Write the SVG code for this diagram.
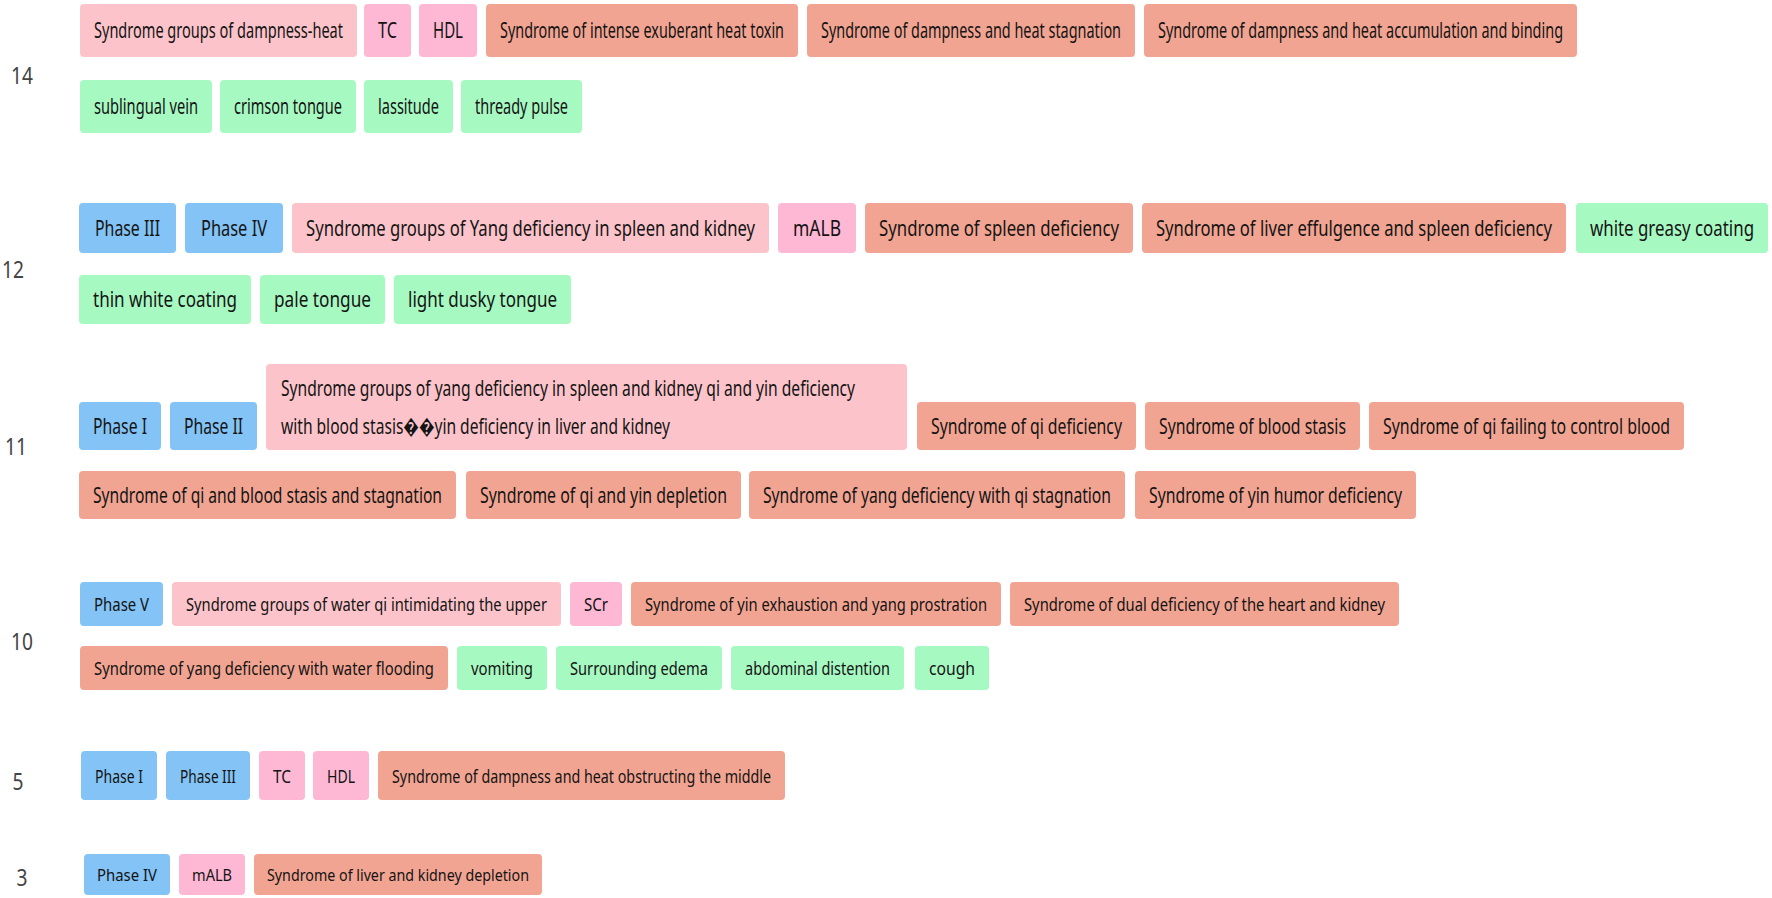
<svg xmlns="http://www.w3.org/2000/svg" width="1772" height="898" viewBox="0 0 1772 898">
<style>
.bl{fill:#83c3f5}.lp{fill:#fcc4ca}.pk{fill:#ffb8d3}.sa{fill:#f2a492}.gr{fill:#a7f9c2}
rect{rx:4px;ry:4px}
text{font-family:"Noto Sans","Open Sans","Liberation Sans",sans-serif;fill:#141414;lengthAdjust:spacingAndGlyphs}
.t20{font-size:21px}.t18{font-size:19px}.t16{font-size:17px}
.lab{font-size:24px;fill:#444;text-anchor:middle}
.c{text-anchor:middle}
</style>
<rect width="1772" height="898" fill="#ffffff"/>
<g id="labels">
<text class="lab" transform="translate(22,84) scale(0.8,1)">14</text>
<text class="lab" transform="translate(13,278) scale(0.8,1)">12</text>
<text class="lab" transform="translate(16,455) scale(0.8,1)">11</text>
<text class="lab" transform="translate(22,650) scale(0.8,1)">10</text>
<text class="lab" transform="translate(18,790) scale(0.8,1)">5</text>
<text class="lab" transform="translate(22,886) scale(0.8,1)">3</text>
</g>
<g id="connectors"/>
<!-- Row 14 -->
<g id="r14-1"><rect class="lp" x="80" y="4" width="277" height="53"/><text class="t20 c" transform="translate(218.5,38) scale(0.68,1)" textLength="366.2" lengthAdjust="spacingAndGlyphs">Syndrome groups of dampness-heat</text></g>
<g id="r14-2"><rect class="pk" x="364" y="4" width="47" height="53"/><text class="t20 c" transform="translate(387.5,38) scale(0.68,1)" textLength="27.9" lengthAdjust="spacingAndGlyphs">TC</text></g>
<g id="r14-3"><rect class="pk" x="419" y="4" width="58" height="53"/><text class="t20 c" transform="translate(448,38) scale(0.68,1)" textLength="44.1" lengthAdjust="spacingAndGlyphs">HDL</text></g>
<g id="r14-4"><rect class="sa" x="486" y="4" width="312" height="53"/><text class="t20 c" transform="translate(642,38) scale(0.68,1)" textLength="417.6" lengthAdjust="spacingAndGlyphs">Syndrome of intense exuberant heat toxin</text></g>
<g id="r14-5"><rect class="sa" x="807" y="4" width="328" height="53"/><text class="t20 c" transform="translate(971,38) scale(0.68,1)" textLength="441.2" lengthAdjust="spacingAndGlyphs">Syndrome of dampness and heat stagnation</text></g>
<g id="r14-6"><rect class="sa" x="1144" y="4" width="433" height="53"/><text class="t20 c" transform="translate(1360.5,38) scale(0.68,1)" textLength="595.6" lengthAdjust="spacingAndGlyphs">Syndrome of dampness and heat accumulation and binding</text></g>
<g id="r14-7"><rect class="gr" x="80" y="80" width="132" height="53"/><text class="t20 c" transform="translate(146,114) scale(0.68,1)" textLength="152.9" lengthAdjust="spacingAndGlyphs">sublingual vein</text></g>
<g id="r14-8"><rect class="gr" x="220" y="80" width="136" height="53"/><text class="t20 c" transform="translate(288,114) scale(0.68,1)" textLength="158.8" lengthAdjust="spacingAndGlyphs">crimson tongue</text></g>
<g id="r14-9"><rect class="gr" x="364" y="80" width="89" height="53"/><text class="t20 c" transform="translate(408.5,114) scale(0.68,1)" textLength="89.7" lengthAdjust="spacingAndGlyphs">lassitude</text></g>
<g id="r14-10"><rect class="gr" x="461" y="80" width="121" height="53"/><text class="t20 c" transform="translate(521.5,114) scale(0.68,1)" textLength="136.8" lengthAdjust="spacingAndGlyphs">thready pulse</text></g>
<!-- Row 12 -->
<g id="r12-1"><rect class="bl" x="79" y="203" width="97" height="50"/><text class="t20 c" transform="translate(127.5,235.5) scale(0.68,1)" textLength="95.6" lengthAdjust="spacingAndGlyphs">Phase III</text></g>
<g id="r12-2"><rect class="bl" x="185" y="203" width="98" height="50"/><text class="t20 c" transform="translate(234,235.5) scale(0.68,1)" textLength="97.1" lengthAdjust="spacingAndGlyphs">Phase IV</text></g>
<g id="r12-3"><rect class="lp" x="292" y="203" width="477" height="50"/><text class="t20 c" transform="translate(530.5,235.5) scale(0.68,1)" textLength="660.3" lengthAdjust="spacingAndGlyphs">Syndrome groups of Yang deficiency in spleen and kidney</text></g>
<g id="r12-4"><rect class="pk" x="778" y="203" width="78" height="50"/><text class="t20 c" transform="translate(817,235.5) scale(0.68,1)" textLength="70.6" lengthAdjust="spacingAndGlyphs">mALB</text></g>
<g id="r12-5"><rect class="sa" x="865" y="203" width="268" height="50"/><text class="t20 c" transform="translate(999,235.5) scale(0.68,1)" textLength="352.9" lengthAdjust="spacingAndGlyphs">Syndrome of spleen deficiency</text></g>
<g id="r12-6"><rect class="sa" x="1142" y="203" width="424" height="50"/><text class="t20 c" transform="translate(1354,235.5) scale(0.68,1)" textLength="582.4" lengthAdjust="spacingAndGlyphs">Syndrome of liver effulgence and spleen deficiency</text></g>
<g id="r12-7"><rect class="gr" x="1576" y="203" width="192" height="50"/><text class="t20 c" transform="translate(1672,235.5) scale(0.68,1)" textLength="241.2" lengthAdjust="spacingAndGlyphs">white greasy coating</text></g>
<g id="r12-8"><rect class="gr" x="79" y="275" width="172" height="49"/><text class="t20 c" transform="translate(165,307) scale(0.68,1)" textLength="211.8" lengthAdjust="spacingAndGlyphs">thin white coating</text></g>
<g id="r12-9"><rect class="gr" x="260" y="275" width="125" height="49"/><text class="t20 c" transform="translate(322.5,307) scale(0.68,1)" textLength="142.6" lengthAdjust="spacingAndGlyphs">pale tongue</text></g>
<g id="r12-10"><rect class="gr" x="394" y="275" width="177" height="49"/><text class="t20 c" transform="translate(482.5,307) scale(0.68,1)" textLength="219.1" lengthAdjust="spacingAndGlyphs">light dusky tongue</text></g>
<!-- Row 11 -->
<g id="r11-1"><rect class="bl" x="79" y="402" width="82" height="48"/><text class="t20 c" transform="translate(120,433.5) scale(0.68,1)" textLength="79.4" lengthAdjust="spacingAndGlyphs">Phase I</text></g>
<g id="r11-2"><rect class="bl" x="170" y="402" width="87" height="48"/><text class="t20 c" transform="translate(213.5,433.5) scale(0.68,1)" textLength="86.8" lengthAdjust="spacingAndGlyphs">Phase II</text></g>
<g id="r11-3"><rect class="lp" x="266" y="364" width="641" height="86"/><text class="t20" transform="translate(281,395.5) scale(0.68,1)" textLength="844.1" lengthAdjust="spacingAndGlyphs">Syndrome groups of yang deficiency in spleen and kidney qi and yin deficiency</text><text class="t20" transform="translate(281,433.5) scale(0.68,1)" textLength="572.1" lengthAdjust="spacingAndGlyphs">with blood stasis��yin deficiency in liver and kidney</text></g>
<g id="r11-4"><rect class="sa" x="917" y="402" width="219" height="48"/><text class="t20 c" transform="translate(1026.5,433.5) scale(0.68,1)" textLength="280.9" lengthAdjust="spacingAndGlyphs">Syndrome of qi deficiency</text></g>
<g id="r11-5"><rect class="sa" x="1145" y="402" width="215" height="48"/><text class="t20 c" transform="translate(1252.5,433.5) scale(0.68,1)" textLength="275" lengthAdjust="spacingAndGlyphs">Syndrome of blood stasis</text></g>
<g id="r11-6"><rect class="sa" x="1369" y="402" width="315" height="48"/><text class="t20 c" transform="translate(1526.5,433.5) scale(0.68,1)" textLength="422.1" lengthAdjust="spacingAndGlyphs">Syndrome of qi failing to control blood</text></g>
<g id="r11-7"><rect class="sa" x="79" y="471" width="377" height="48"/><text class="t20 c" transform="translate(267.5,502.5) scale(0.68,1)" textLength="513.2" lengthAdjust="spacingAndGlyphs">Syndrome of qi and blood stasis and stagnation</text></g>
<g id="r11-8"><rect class="sa" x="466" y="471" width="275" height="48"/><text class="t20 c" transform="translate(603.5,502.5) scale(0.68,1)" textLength="363.2" lengthAdjust="spacingAndGlyphs">Syndrome of qi and yin depletion</text></g>
<g id="r11-9"><rect class="sa" x="749" y="471" width="376" height="48"/><text class="t20 c" transform="translate(937,502.5) scale(0.68,1)" textLength="511.8" lengthAdjust="spacingAndGlyphs">Syndrome of yang deficiency with qi stagnation</text></g>
<g id="r11-10"><rect class="sa" x="1135" y="471" width="281" height="48"/><text class="t20 c" transform="translate(1275.5,502.5) scale(0.68,1)" textLength="372.1" lengthAdjust="spacingAndGlyphs">Syndrome of yin humor deficiency</text></g>
<!-- Row 10 -->
<g id="r10-1"><rect class="bl" x="80" y="582" width="83" height="44"/><text class="t18 c" transform="translate(121.5,610.5) scale(0.7,1)" textLength="78.6" lengthAdjust="spacingAndGlyphs">Phase V</text></g>
<g id="r10-2"><rect class="lp" x="172" y="582" width="389" height="44"/><text class="t18 c" transform="translate(366.5,610.5) scale(0.7,1)" textLength="515.7" lengthAdjust="spacingAndGlyphs">Syndrome groups of water qi intimidating the upper</text></g>
<g id="r10-3"><rect class="pk" x="570" y="582" width="52" height="44"/><text class="t18 c" transform="translate(596,610.5) scale(0.7,1)" textLength="34.3" lengthAdjust="spacingAndGlyphs">SCr</text></g>
<g id="r10-4"><rect class="sa" x="631" y="582" width="370" height="44"/><text class="t18 c" transform="translate(816,610.5) scale(0.7,1)" textLength="488.6" lengthAdjust="spacingAndGlyphs">Syndrome of yin exhaustion and yang prostration</text></g>
<g id="r10-5"><rect class="sa" x="1010" y="582" width="389" height="44"/><text class="t18 c" transform="translate(1204.5,610.5) scale(0.7,1)" textLength="515.7" lengthAdjust="spacingAndGlyphs">Syndrome of dual deficiency of the heart and kidney</text></g>
<g id="r10-6"><rect class="sa" x="80" y="646" width="368" height="44"/><text class="t18 c" transform="translate(264,674.5) scale(0.7,1)" textLength="485.7" lengthAdjust="spacingAndGlyphs">Syndrome of yang deficiency with water flooding</text></g>
<g id="r10-7"><rect class="gr" x="457" y="646" width="90" height="44"/><text class="t18 c" transform="translate(502,674.5) scale(0.7,1)" textLength="88.6" lengthAdjust="spacingAndGlyphs">vomiting</text></g>
<g id="r10-8"><rect class="gr" x="556" y="646" width="166" height="44"/><text class="t18 c" transform="translate(639,674.5) scale(0.7,1)" textLength="197.1" lengthAdjust="spacingAndGlyphs">Surrounding edema</text></g>
<g id="r10-9"><rect class="gr" x="731" y="646" width="173" height="44"/><text class="t18 c" transform="translate(817.5,674.5) scale(0.7,1)" textLength="207.1" lengthAdjust="spacingAndGlyphs">abdominal distention</text></g>
<g id="r10-10"><rect class="gr" x="915" y="646" width="74" height="44"/><text class="t18 c" transform="translate(952,674.5) scale(0.7,1)" textLength="65.7" lengthAdjust="spacingAndGlyphs">cough</text></g>
<!-- Row 5 -->
<g id="r5-1"><rect class="bl" x="81" y="751" width="76" height="49"/><text class="t18 c" transform="translate(119,782.5) scale(0.7,1)" textLength="68.6" lengthAdjust="spacingAndGlyphs">Phase I</text></g>
<g id="r5-2"><rect class="bl" x="166" y="751" width="84" height="49"/><text class="t18 c" transform="translate(208,782.5) scale(0.7,1)" textLength="80" lengthAdjust="spacingAndGlyphs">Phase III</text></g>
<g id="r5-3"><rect class="pk" x="259" y="751" width="46" height="49"/><text class="t18 c" transform="translate(282,782.5) scale(0.7,1)" textLength="25.7" lengthAdjust="spacingAndGlyphs">TC</text></g>
<g id="r5-4"><rect class="pk" x="313" y="751" width="56" height="49"/><text class="t18 c" transform="translate(341,782.5) scale(0.7,1)" textLength="40" lengthAdjust="spacingAndGlyphs">HDL</text></g>
<g id="r5-5"><rect class="sa" x="378" y="751" width="407" height="49"/><text class="t18 c" transform="translate(581.5,782.5) scale(0.7,1)" textLength="541.4" lengthAdjust="spacingAndGlyphs">Syndrome of dampness and heat obstructing the middle</text></g>
<!-- Row 3 -->
<g id="r3-1"><rect class="bl" x="84" y="854" width="86" height="41"/><text class="t16 c" transform="translate(127,880.5) scale(0.76,1)" textLength="78.9" lengthAdjust="spacingAndGlyphs">Phase IV</text></g>
<g id="r3-2"><rect class="pk" x="179" y="854" width="66" height="41"/><text class="t16 c" transform="translate(212,880.5) scale(0.76,1)" textLength="52.6" lengthAdjust="spacingAndGlyphs">mALB</text></g>
<g id="r3-3"><rect class="sa" x="254" y="854" width="288" height="41"/><text class="t16 c" transform="translate(398,880.5) scale(0.76,1)" textLength="344.7" lengthAdjust="spacingAndGlyphs">Syndrome of liver and kidney depletion</text></g>
</svg>
